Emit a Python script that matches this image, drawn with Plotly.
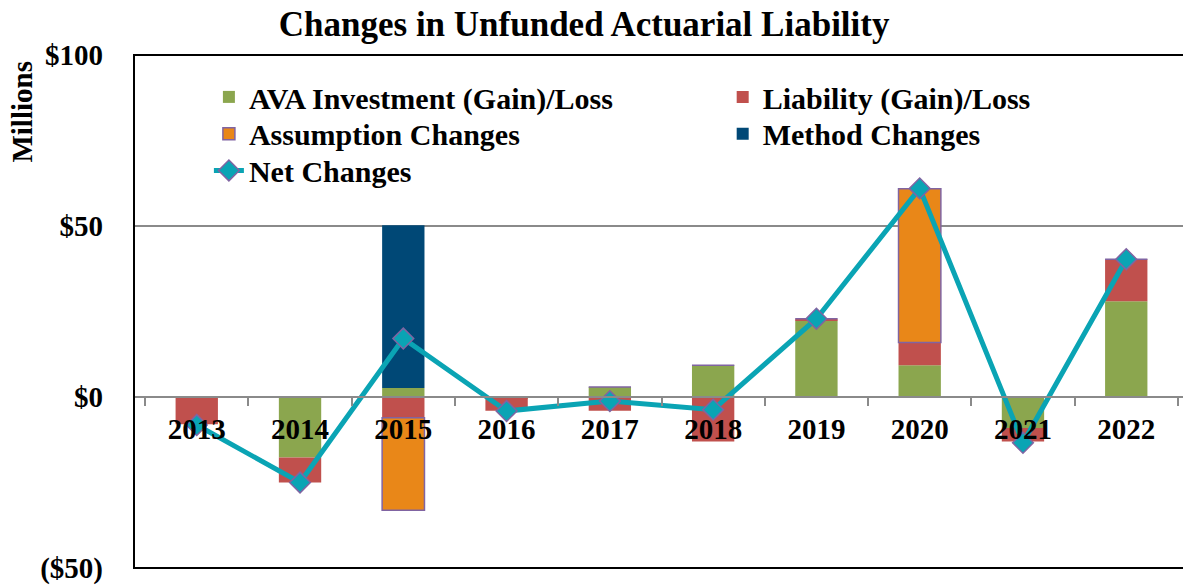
import plotly.graph_objects as go

years = ['2013', '2014', '2015', '2016', '2017', '2018', '2019', '2020', '2021', '2022']

ava_investment = [0.0, -17.7, 2.6, -0.3, 2.9, 9.3, 22.4, 9.3, -9.1, 28.0]
liability = [-8.0, -7.3, -6.1, -3.7, -4.0, -13.0, 0.5, 6.6, -3.9, 12.3]
assumption = [0.0, 0.0, -27.0, 0.0, 0.0, 0.0, 0.0, 45.0, 0.0, 0.0]
method = [0.0, 0.0, 47.6, 0.0, 0.0, 0.0, 0.0, 0.0, 0.0, 0.0]
net_changes = [-8.2, -25.0, 17.1, -4.1, -1.2, -3.7, 22.9, 61.0, -13.4, 40.3]

y_tickvals = [-50, 0, 50, 100]
y_ticktext = ['($50)', '$0', '$50', '$100']

_font = 'Liberation Serif, Times New Roman, serif'
_legend_font = dict(family=_font, size=30, color='black', weight='bold')


def _legend_box(x, y):
    # one legend per entry so rows and columns sit like the original
    return dict(
        orientation='v',
        x=x, xanchor='left',
        y=y, yanchor='top',
        bgcolor='rgba(0,0,0,0)',
        font=_legend_font,
    )


fig = go.Figure()

fig.add_trace(go.Bar(
    x=years, y=ava_investment,
    name='AVA Investment (Gain)/Loss',
    marker=dict(color='#8BA64E', line=dict(width=0)),
    width=0.41,
    legend='legend',
))
fig.add_trace(go.Bar(
    x=years, y=liability,
    name='Liability (Gain)/Loss',
    marker=dict(color='#C0504D', line=dict(width=0)),
    width=0.41,
    legend='legend2',
))
fig.add_trace(go.Bar(
    x=years, y=assumption,
    name='Assumption Changes',
    marker=dict(color='#E98718', line=dict(color='#8064A2', width=1.5)),
    width=0.41,
    legend='legend3',
))
fig.add_trace(go.Bar(
    x=years, y=method,
    name='Method Changes',
    marker=dict(color='#004876', line=dict(width=0)),
    width=0.41,
    legend='legend4',
))
fig.add_trace(go.Scatter(
    x=years, y=net_changes,
    name='Net Changes',
    mode='lines+markers',
    line=dict(color='#0AA4B4', width=5),
    marker=dict(symbol='diamond', size=16, color='#0AA4B4',
                line=dict(color='#8064A2', width=1.5)),
    legend='legend5',
))

fig.update_layout(
    # page body adds 8px margin, so the figure is 8px smaller each way
    width=1183,
    height=579,
    barmode='relative',
    showlegend=True,
    plot_bgcolor='white',
    paper_bgcolor='white',
    margin=dict(l=126, r=2, t=47, b=16),
    font=dict(family=_font, color='black', size=29),

    title=dict(
        text='<b>Changes in Unfunded Actuarial Liability</b>',
        font=dict(family=_font, size=35, color='black'),
        x=0.487, xanchor='center',
        y=0.972, yanchor='middle',
    ),

    xaxis=dict(
        type='category',
        anchor='free',
        position=1 / 3,
        showline=True,
        linecolor='#8A8A8A',
        linewidth=2,
        ticks='outside',
        tickson='boundaries',
        ticklen=8,
        tickwidth=2,
        tickcolor='#8A8A8A',
        showgrid=False,
        ticklabelstandoff=6,
        tickfont=dict(family=_font, size=29, color='black', weight='bold'),
        layer='above traces',
    ),

    yaxis=dict(
        range=[-50, 100],
        tickmode='array',
        tickvals=y_tickvals,
        ticktext=y_ticktext,
        showgrid=True,
        gridcolor='#8A8A8A',
        gridwidth=1.5,
        zeroline=False,
        showline=False,
        ticks='',
        ticklabelstandoff=30,
        ticklabeloverflow='allow',
        tickfont=dict(family=_font, size=29, color='black', weight='bold'),
    ),

    legend=_legend_box(0.071, 0.969),
    legend2=_legend_box(0.558, 0.969),
    legend3=_legend_box(0.071, 0.8973),
    legend4=_legend_box(0.558, 0.8973),
    legend5=_legend_box(0.071, 0.8256),

    shapes=[
        dict(type='rect', xref='paper', yref='paper',
             x0=0, x1=1, y0=0, y1=1,
             line=dict(color='black', width=2), layer='above'),
    ],

    annotations=[
        dict(text='<b>Millions</b>', xref='paper', yref='paper',
             x=-0.106, y=0.89, textangle=-90, showarrow=False,
             font=dict(family=_font, size=29, color='black'),
             xanchor='center', yanchor='middle'),
    ],
)

fig.write_html('out.html')
